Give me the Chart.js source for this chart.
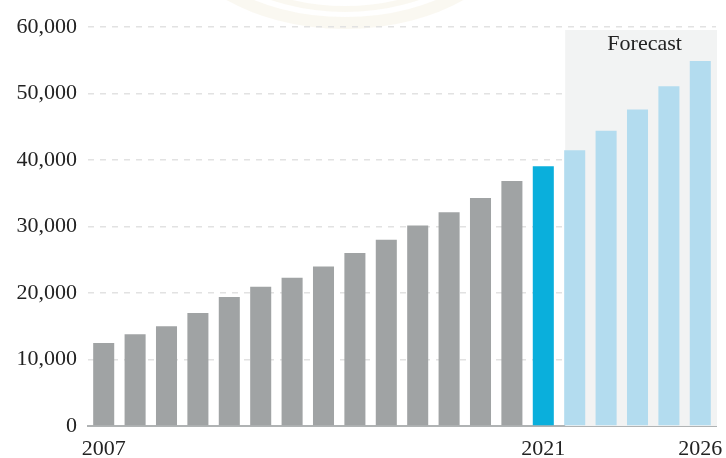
<!DOCTYPE html>
<html>
<head>
<meta charset="utf-8">
<script src="https://cdn.jsdelivr.net/npm/chart.js@4.4.0/dist/chart.umd.min.js"></script>
<style>
  html, body { margin: 0; padding: 0; background: #fff; }
  #wrap { width: 726px; height: 458px; position: relative; }
</style>
</head>
<body>
<div id="wrap"><canvas id="barChart"></canvas></div>
<script>
// data
const years = ['2007', '2008', '2009', '2010', '2011', '2012', '2013', '2014', '2015', '2016',
               '2017', '2018', '2019', '2020', '2021', '2022', '2023', '2024', '2025', '2026'];
const values = [12500, 13800, 15000, 17000, 19400, 20950, 22300, 24000, 26000, 28000,
                30150, 32150, 34300, 36850, 39050, 41450, 44400, 47600, 51100, 54900];
const shownYears = ['2007', '2021', '2026'];
const currentYear = '2021';
const yTicks = [0, 10000, 20000, 30000, 40000, 50000, 60000];

const serif = '"Liberation Serif", "DejaVu Serif", serif';

function barColor(ctx) {
    let yr = years[ctx.dataIndex];
    if (yr === currentYear) return '#0aafdc';
    if (+yr > +currentYear) return '#b3dcef';
    return '#a0a3a4';
}

// faint watermark arc at the top + grey forecast band
const backdrop = {
    id: 'backdrop',
    beforeDraw(chart) {
        const c = chart.ctx;
        c.save();
        c.strokeStyle = 'rgba(246, 242, 230, 0.55)';
        c.lineWidth = 12;
        c.beginPath();
        c.ellipse(345, -95, 178, 118, 0, 0, Math.PI);
        c.stroke();
        c.lineWidth = 6;
        c.beginPath();
        c.ellipse(345, -95, 158, 104, 0, 0, Math.PI);
        c.stroke();
        c.restore();
    },
    beforeDatasetsDraw(chart) {
        const { ctx, chartArea, scales } = chart;
        const x = scales.x, y = scales.y;
        const first = years.indexOf(currentYear) + 1;
        const half = chart.getDatasetMeta(0).data[first].width / 2;
        const left = x.getPixelForValue(first) - half + 1;
        const top = y.getPixelForValue(60000) + 3;
        ctx.save();
        ctx.fillStyle = '#f2f3f3';
        ctx.fillRect(left, top, chartArea.right + 1 - left, chartArea.bottom - top);
        ctx.fillStyle = '#222';
        ctx.font = '22px ' + serif;
        ctx.textAlign = 'center';
        ctx.textBaseline = 'middle';
        ctx.fillText('Forecast', (left + chartArea.right) / 2 + 4, top + 14);
        ctx.restore();
    }
};

const barChart = new Chart(document.getElementById('barChart'), {
    type: 'bar',
    data: {
        labels: years,
        datasets: [{
            data: values,
            backgroundColor: barColor,
            borderWidth: 0,
            categoryPercentage: 1,
            barPercentage: 0.67
        }]
    },
    options: {
        responsive: true,
        maintainAspectRatio: false,
        animation: false,
        layout: { padding: { top: 27, right: 10, left: 0, bottom: 0 } },
        plugins: {
            legend: { display: false },
            tooltip: { enabled: false }
        },
        scales: {
            x: {
                afterFit: (axis) => {
                    axis.height = 32;
                    axis.paddingLeft = 0;
                    axis.paddingRight = 0;
                },
                grid: { display: false },
                border: { display: true, color: '#b0b3b4', width: 2 },
                ticks: {
                    autoSkip: false,
                    maxRotation: 0,
                    padding: 4,
                    color: '#222',
                    font: { family: serif, size: 22, lineHeight: 1 },
                    callback: function (val, i) {
                        return shownYears.includes(years[i]) ? years[i] : '';
                    }
                }
            },
            y: {
                min: 0,
                max: 60000,
                afterBuildTicks: (axis) => { axis.ticks = yTicks.map(v => ({ value: v })); },
                afterFit: (axis) => {
                    axis.width = 88;
                    axis.paddingTop = 0;
                    axis.paddingBottom = 0;
                },
                grid: {
                    color: (ctx) => ctx.tick.value === 0 ? 'rgba(0,0,0,0)' : '#e2e2e2',
                    lineWidth: 1.5,
                    drawTicks: false
                },
                border: { display: false, dash: [6, 6] },
                ticks: {
                    padding: 11,
                    color: '#222',
                    font: { family: serif, size: 22 },
                    callback: (v) => v.toLocaleString('en-US')
                }
            }
        }
    },
    plugins: [backdrop]
});
</script>
</body>
</html>
